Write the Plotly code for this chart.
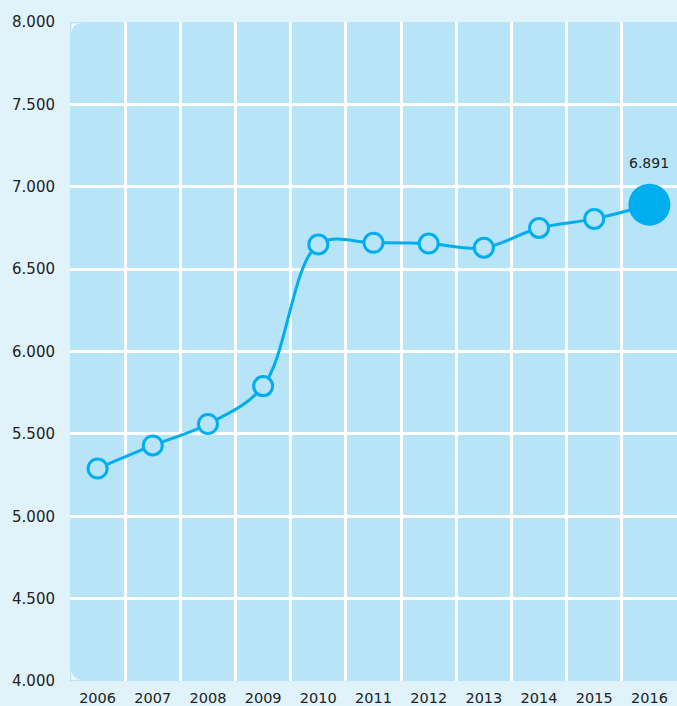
import plotly.graph_objects as go

years = ["2006", "2007", "2008", "2009", "2010", "2011", "2012", "2013", "2014", "2015", "2016"]
values = [5290, 5430, 5560, 5790, 6650, 6660, 6655, 6630, 6750, 6805, 6891]
y_ticks = [4000, 4500, 5000, 5500, 6000, 6500, 7000, 7500, 8000]

PAPER = "#e1f3fa"
PLOT = "#b8e4f8"
BLUE = "#00aeef"

n = len(values)
sizes = [19] * (n - 1) + [42]
fills = [PLOT] * (n - 1) + [BLUE]
lw = [3] * (n - 1) + [0]

W, H = 677, 706
ML, MR, MT, MB = 70, 0, 22, 23
pw, ph = W - ML - MR, H - MT - MB
r = 10
rx, ry = r / pw, r / ph
ox, oy = 1.5 / pw, 1.5 / ph

fig = go.Figure()
fig.add_trace(go.Scatter(
    x=years, y=values, mode="lines+markers",
    line=dict(color=BLUE, width=3, shape="spline", smoothing=1),
    marker=dict(size=sizes, color=fills, opacity=1, line=dict(color=BLUE, width=lw)),
    hoverinfo="skip", showlegend=False, cliponaxis=False,
))
fig.add_annotation(
    x=n - 1, y=values[-1], xref="x", yref="y",
    text=f"{values[-1]:,}".replace(",", "."),
    showarrow=False, yshift=42, font=dict(size=14, color="#222"),
)

# rounded inner corners of the plot panel (white corner masks)
tl = (f"M {ox},{1-oy} L {ox+rx},{1-oy} Q {ox},{1-oy} {ox},{1-oy-ry} Z")
bl = (f"M {ox},{oy} L {ox+rx},{oy} Q {ox},{oy} {ox},{oy+ry} Z")
for p in (tl, bl):
    fig.add_shape(type="path", path=p, xref="paper", yref="paper",
                  fillcolor="white", line=dict(width=0), layer="above")

fig.update_layout(
    width=W, height=H,
    margin=dict(l=ML, r=MR, t=MT, b=MB),
    paper_bgcolor=PAPER, plot_bgcolor=PLOT,
    separators=",.",
    font=dict(family="'DejaVu Sans', sans-serif", size=15, color="#222"),
    xaxis=dict(
        type="category", tickson="boundaries", range=[-0.5, n - 0.5],
        showgrid=True, gridcolor="white", gridwidth=3,
        ticks="", showline=False, zeroline=False,
        tickfont=dict(size=14.5), ticklabelstandoff=6,
    ),
    yaxis=dict(
        range=[4000, 8000], tickvals=y_ticks, tickformat=",d",
        showgrid=True, gridcolor="white", gridwidth=3,
        ticks="", showline=False, zeroline=False,
        ticklabelstandoff=14,
    ),
)
fig.write_html(
    "out.html",
    config={"displayModeBar": False},
    post_script="document.body.style.margin='0';document.body.style.overflow='hidden';",
)
